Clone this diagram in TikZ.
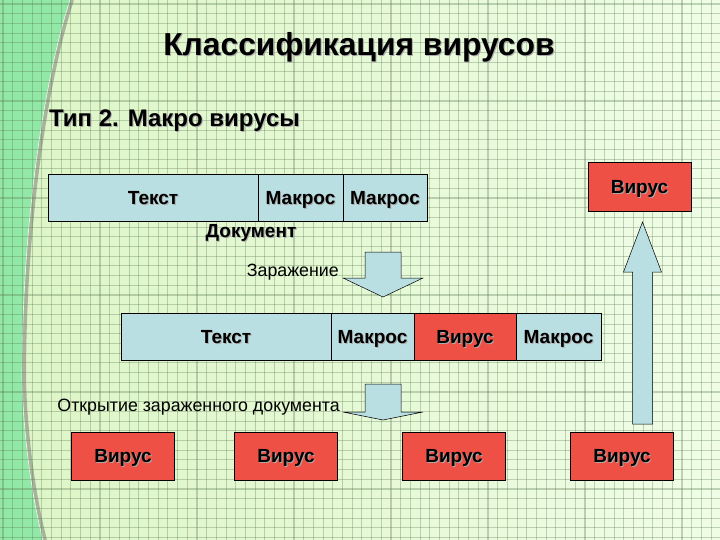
\documentclass[tikz,border=0pt]{standalone}
\usepackage{fontspec}
\setmainfont{Liberation Sans}
\usetikzlibrary{positioning,calc}
\definecolor{cDoc}{HTML}{B9DFE3}
\definecolor{cVir}{HTML}{EF5046}
\definecolor{cBgL}{HTML}{DDF5C6}
\definecolor{cBgR}{HTML}{EFFDE6}
\definecolor{cBand}{HTML}{92E8A6}
\definecolor{cGrid}{HTML}{5A7850}
\definecolor{cShade}{HTML}{ABABAB}
% gray drop shadow behind bold text
\newcommand\shd[1]{\rlap{\kern1pt\raisebox{-1pt}{\textcolor{cShade}{#1}}}#1}
\newcommand\fTitle{\bfseries\fontsize{31.8}{36}\selectfont}
\newcommand\fSub{\bfseries\fontsize{24}{28}\selectfont}
\newcommand\fBox{\bfseries\fontsize{19}{23}\selectfont}
\newcommand\fCap{\fontsize{17.8}{21}\selectfont}
% block arrow: #1 foot, #2 tip, #3 half shaft, #4 half head, #5 head length
\newcommand\blockarrow[5]{%
  \coordinate (hb) at ($(#2)!#5!(#1)$);
  \filldraw[block-arrow] ($(#1)!#3!90:(#2)$) -- ($(hb)!#3!-90:(#1)$)
    -- ($(hb)!#4!-90:(#1)$) -- (#2) -- ($(hb)!#4!90:(#1)$)
    -- ($(hb)!#3!90:(#1)$) -- ($(#1)!#3!-90:(#2)$) -- cycle;}
\tikzset{
  cell/.style={draw=black,line width=0.8pt,fill=cDoc,minimum height=47pt,
    inner sep=0pt,outer sep=0pt,text height=13.6pt,text depth=0pt,font=\fBox},
  cell-virus/.style={cell,fill=cVir},
  virus-box/.style={cell,fill=cVir,minimum width=103pt,minimum height=48pt},
  block-arrow/.style={draw=black,line width=0.5pt,fill=cDoc},
  caption/.style={anchor=east,inner sep=0pt,font=\fCap},
  grid-line/.style={cGrid,opacity=0.33,line width=1.1pt},
}
\begin{document}
\begin{tikzpicture}[x=1pt,y=-1pt]
  \useasboundingbox (0,0) rectangle (720,540);
  \clip (0,0) rectangle (720,540);
  % background
  \fill[left color=cBgL,right color=cBgR] (0,0) rectangle (720,540);
  \draw[black!60,line width=4pt,opacity=0.45,xshift=2pt]
    (70,0) .. controls (50,60) and (22,200) .. (22,380)
    .. controls (24,450) and (35,510) .. (43,540);
  \fill[cBand] (0,0) -- (70,0) .. controls (50,60) and (22,200) .. (22,380)
    .. controls (24,450) and (35,510) .. (43,540) -- (0,540) -- cycle;
  \draw[white,line width=0.6pt,opacity=0.8]
    (70,0) .. controls (50,60) and (22,200) .. (22,380)
    .. controls (24,450) and (35,510) .. (43,540);
  \foreach \gx in {3,12.7,...,720} \draw[grid-line] (\gx,0) -- (\gx,540);
  \foreach \gy in {4,13.7,...,540} \draw[grid-line] (0,\gy) -- (720,\gy);

  % headings
  \node[font=\fTitle] (title) at (359,48) {\shd{Классификация вирусов}};
  \node[font=\fSub,anchor=west,inner sep=0pt] (subtitle) at (49,121)
    {\shd{Тип 2. Макро вирусы}};

  % clean document
  \node[cell,minimum width=210pt,anchor=west] (txt1) at (48,198) {\shd{Текст}};
  \node[cell,minimum width=85pt,right=0pt of txt1] (mac1) {\shd{Макрос}};
  \node[cell,minimum width=84pt,right=0pt of mac1] (mac2) {\shd{Макрос}};
  \node[font=\fBox,inner sep=0pt,text height=13.6pt,text depth=0pt] (doc)
    at (251,231) {\shd{Документ}};
  \node[virus-box,minimum height=49pt] (vtop) at (639.5,186.5) {\shd{Вирус}};

  % infected document
  \node[cell,minimum width=210pt,anchor=west] (txt2) at (121,336.5) {\shd{Текст}};
  \node[cell,minimum width=83pt,right=0pt of txt2] (mac3) {\shd{Макрос}};
  \node[cell-virus,minimum width=102pt,right=0pt of mac3] (vir) {\shd{Вирус}};
  \node[cell,minimum width=85pt,right=0pt of vir] (mac4) {\shd{Макрос}};

  % copies after opening
  \node[virus-box] (v1) at (123,456) {\shd{Вирус}};
  \node[virus-box,right=60pt of v1] (v2) {\shd{Вирус}};
  \node[virus-box,right=65pt of v2] (v3) {\shd{Вирус}};
  \node[virus-box,right=65pt of v3] (v4) {\shd{Вирус}};

  % arrows
  \coordinate (inf-a) at (383,252);
  \coordinate (inf-b) at (383,297);
  \blockarrow{inf-a}{inf-b}{18pt}{40pt}{19pt}
  \node[caption] (inf-lbl) at (339,272) {Заражение};
  \coordinate (open-a) at (383,384);
  \coordinate (open-b) at (383,420);
  \blockarrow{open-a}{open-b}{18pt}{40pt}{8pt}
  \node[caption] (open-lbl) at (340,407) {Открытие зараженного документа};
  \coordinate (up-a) at ($(v4.north)+(20.5,-8)$);
  \coordinate (up-b) at ($(vtop.south)+(3,11)$);
  \blockarrow{up-a}{up-b}{10pt}{19pt}{50pt}
\end{tikzpicture}
\end{document}
